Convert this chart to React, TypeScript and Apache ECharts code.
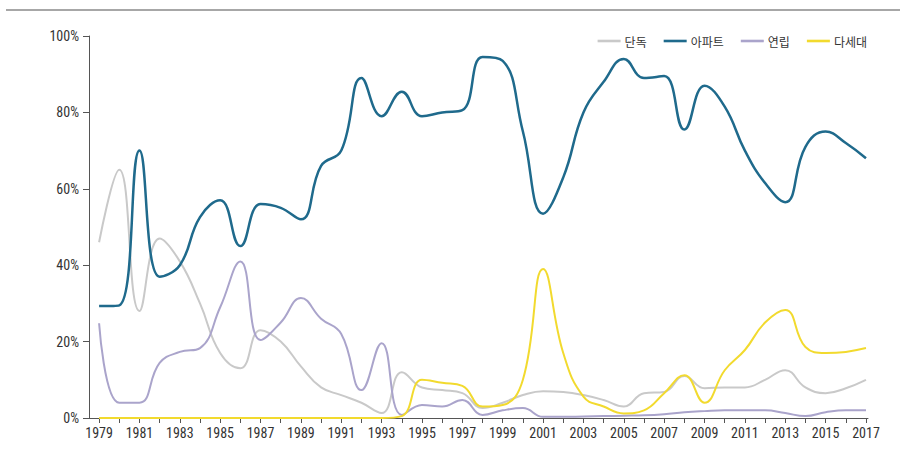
import React, { useEffect, useRef } from "react";
import * as echarts from "echarts";

const years = Array.from({ length: 39 }, (_, i) => 1979 + i);
const tickYears = years;
const labelYears = years.filter((y) => (y - 1979) % 2 === 0);

const seriesNames = ["단독", "아파트", "연립", "다세대"];

const detached = [46, 65, 28, 47, 41, 30, 17, 13, 23, 20, 13.5, 8, 6, 4, 1.3, 12, 8, 7.3, 6.5, 2.6, 4, 6, 7, 6.8, 6, 4.7, 3, 6.5, 6.8, 11, 7.8, 8, 8, 10, 12.5, 8, 6.5, 7.8, 10];
const apartment = [29.3, 29.5, 70, 37, 40, 52.6, 57, 45, 56, 55, 52, 66, 70, 89, 79, 85.4, 79, 80, 80.6, 94.5, 93.5, 75, 53.5, 63, 80, 88, 94, 89, 89.5, 75.5, 87, 81.5, 70, 61.5, 56.5, 71, 75, 72, 68];
const rowHouse = [24.8, 4, 4, 14.4, 17.3, 18.3, 29, 41, 20.4, 25, 31.4, 26, 22, 7.3, 19.6, 0.8, 3.4, 3, 4.7, 0.8, 2, 2.6, 0.3, 0.3, 0.4, 0.5, 0.6, 0.7, 1, 1.5, 1.8, 2, 2, 2, 1.3, 0.5, 1.5, 2, 2];
const multiFamily = [0, 0, 0, 0, 0, 0, 0, 0, 0, 0, 0, 0, 0, 0, 0, 0.5, 10, 9.2, 8.4, 3, 3.4, 10, 39, 17, 5.6, 3, 1.2, 2, 6.5, 11.2, 4, 12.5, 17.8, 25, 28.3, 18.6, 17, 17.3, 18.3];

const yTicks = [0, 20, 40, 60, 80, 100];

const colors = ["#c9c9c9", "#1f6a8c", "#aaa4cb", "#f2da2e"];
const widths = [2, 2.5, 2, 2];

export default function App() {
  const ref = useRef<HTMLDivElement>(null);
  useEffect(() => {
    if (!ref.current) return;
    const chart = echarts.init(ref.current, null, { renderer: "svg" });
    const allData = [detached, apartment, rowHouse, multiFamily];
    const narrow = "'Liberation Sans Narrow', 'Roboto Condensed', 'DejaVu Sans Condensed', sans-serif";
    chart.setOption({
      animation: false,
      backgroundColor: "#ffffff",
      graphic: [
        {
          type: "line",
          shape: { x1: 6, y1: 10, x2: 900, y2: 10 },
          style: { stroke: "#8a8a8a", lineWidth: 1.5 },
        },
      ],
      legend: {
        right: 34,
        top: 30,
        itemWidth: 23,
        itemHeight: 10,
        itemGap: 17,
        data: seriesNames.map((n) => ({
          name: n,
          icon: "path://M0,3.7 L23,3.7 L23,6.3 L0,6.3 Z",
        })),
        textStyle: {
          fontFamily: "'Noto Sans CJK KR', sans-serif",
          fontSize: 12,
          color: "#333",
          padding: [0, 0, 0, -1],
        },
      },
      grid: { left: 89, right: 38, top: 36, bottom: 36, containLabel: false },
      xAxis: {
        type: "value",
        min: 1978.5,
        max: 2017.1,
        splitLine: { show: false },
        axisLine: { show: true, onZero: false, lineStyle: { color: "#555", width: 1 } },
        axisTick: {
          show: true,
          length: 5,
          lineStyle: { color: "#555" },
          customValues: tickYears,
        },
        axisLabel: {
          customValues: labelYears,
          formatter: (v: number) => String(v),
          color: "#333",
          fontSize: 14,
          fontFamily: narrow,
          margin: 8,
        },
      },
      yAxis: {
        type: "value",
        min: 0,
        max: 100,
        interval: 20,
        splitLine: { show: false },
        axisLine: { show: true, lineStyle: { color: "#555", width: 1 } },
        axisTick: { show: true, length: 6, lineStyle: { color: "#555" } },
        axisLabel: {
          formatter: (v: number) => (yTicks.includes(v) ? v + "%" : ""),
          color: "#333",
          fontSize: 14,
          fontFamily: narrow,
          margin: 10,
        },
      },
      series: seriesNames.map((n, i) => ({
        name: n,
        type: "line",
        smooth: 0.45,
        showSymbol: false,
        symbol: "none",
        z: i === 1 ? 3 : 2,
        lineStyle: { color: colors[i], width: widths[i] },
        itemStyle: { color: colors[i] },
        data: years.map((y, k) => [y, allData[i][k]]),
      })),
    });
    return () => chart.dispose();
  }, []);
  return (
    <div
      ref={ref}
      style={{ position: "absolute", left: 0, top: 0, width: 906, height: 454 }}
    />
  );
}
